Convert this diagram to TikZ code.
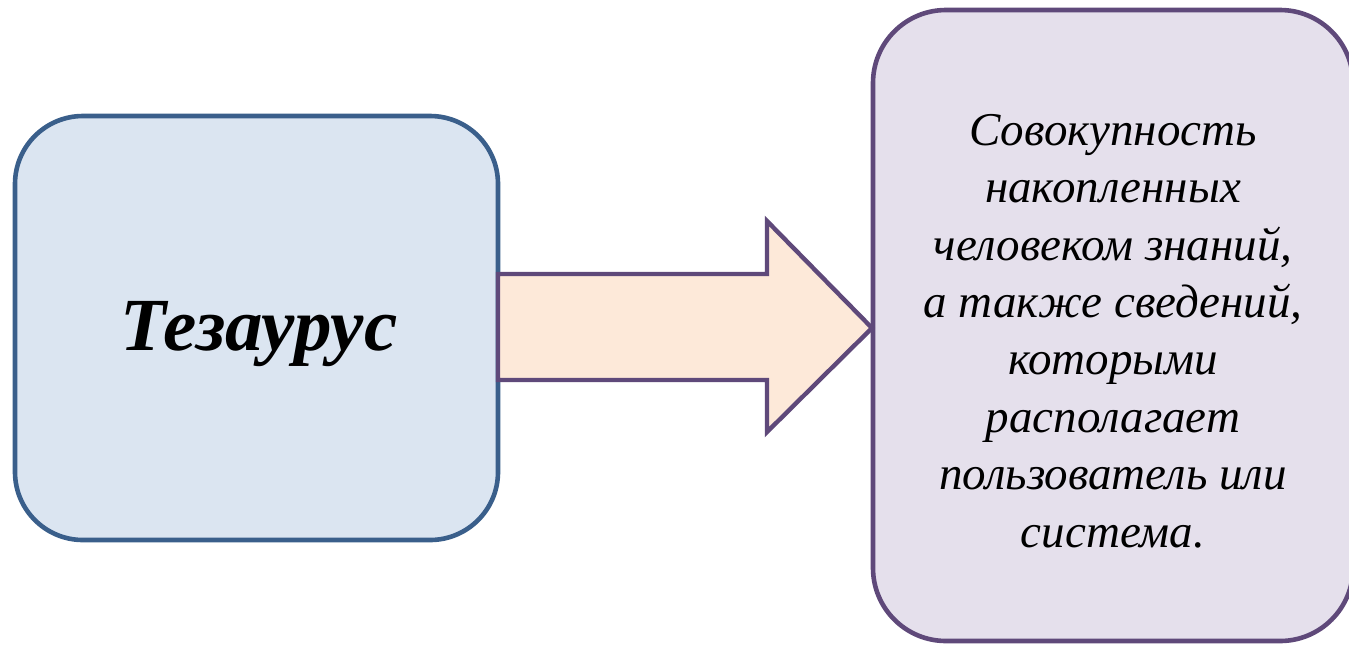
\documentclass[tikz,border=0pt]{standalone}
\usepackage{fontspec}
\setmainfont{Liberation Serif}
\definecolor{bluebd}{HTML}{3A5F8B}
\definecolor{bluefill}{HTML}{DBE5F1}
\definecolor{purpbd}{HTML}{5F497A}
\definecolor{purpfill}{HTML}{E5E0EC}
\definecolor{arrfill}{HTML}{FDE9D9}
\begin{document}
\begin{tikzpicture}[x=0.5pt,y=-0.5pt,
  leftbox/.style={draw=bluebd,fill=bluefill,line width=2.3pt,rounded corners=34pt,
    minimum width=241.5pt,minimum height=212pt,inner sep=0pt},
  rightbox/.style={draw=purpbd,fill=purpfill,line width=2.3pt,rounded corners=36.5pt,
    minimum width=240pt,minimum height=315.5pt,inner sep=0pt},
  bigarrow/.style={draw=purpbd,fill=arrfill,line width=2.2pt,line join=miter},
  title/.style={font=\fontsize{37.5}{45}\selectfont\bfseries\itshape},
  desc/.style={font=\fontsize{23.5}{28.7}\selectfont\itshape,align=center}]
\useasboundingbox (0,0) rectangle (1349,644);
\begin{scope}
\clip (0,0) rectangle (1349,644);
\node[rightbox] (def) at (1113,325.5) {};
\end{scope}
\node[leftbox] (tez) at (256.5,328) {};
\draw[bigarrow] (498,274) -- (767,274) -- (767,221) -- (872,328) -- (767,432) -- (767,380) -- (498,380) -- cycle;
\node[title] (tezt) at (259,334) {Тезаурус};
\node[desc] (deft) at (1113,331) {Совокупность\\накопленных\\человеком знаний,\\а также сведений,\\которыми\\располагает\\пользователь или\\система.};
\end{tikzpicture}
\end{document}
